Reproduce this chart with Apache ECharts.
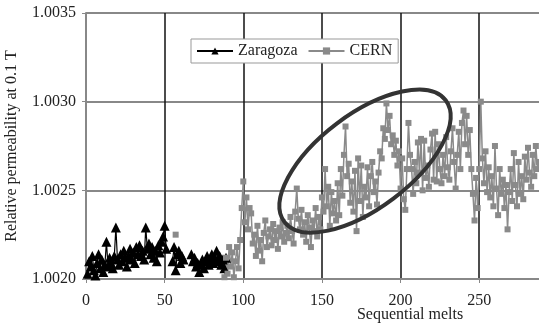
<!DOCTYPE html>
<html>
<head>
<meta charset="utf-8">
<script src="https://cdn.jsdelivr.net/npm/echarts@6/dist/echarts.min.js"></script>
<style>
  html, body { margin: 0; padding: 0; background: #fff; }
  #chart { width: 539px; height: 324px; }
</style>
</head>
<body>
<div id="chart"></div>
<script>
// Zaragoza: melts 1..89, null = no measurement
const zaragozaStart = 1
const zaragozaValues = [
  1.00203, 1.00210, 1.00207, 1.00213, 1.00205, 1.00202, 1.00209, 1.00214, 1.00206, 1.00211,
  1.00204, 1.00208, 1.00221, 1.00207, 1.00212, 1.00209, 1.00206, 1.00213, 1.00229, 1.00211,
  1.00208, 1.00214, 1.00210, 1.00216, 1.00212, 1.00207, 1.00213, 1.00217, 1.00211, 1.00215,
  1.00209, 1.00218, 1.00214, 1.00219, 1.00213, 1.00216, 1.00211, 1.00229, 1.00217, 1.00220,
  1.00214, 1.00218, 1.00212, 1.00216, 1.00210, 1.00219, 1.00215, 1.00221, 1.00224, 1.00230,
  1.00217, null, null, null,
  1.00210, 1.00218, 1.00205, 1.00214, 1.00216, 1.00209, 1.00213, 1.00211,
  null, null, null, null,
  1.00214, 1.00210, 1.00212, 1.00207, 1.00209, 1.00204, 1.00208, 1.00211, 1.00206, 1.00210,
  1.00213, 1.00208, 1.00211, 1.00214, 1.00209, 1.00212, 1.00216, 1.00210, 1.00213, 1.00208,
  1.00211, 1.00206, 1.00212
]

// CERN: one early melt, then melts 88..288
const cernEarly = [57, 1.00225]
const cernStart = 88
const cernValues = [
  1.00201, 1.00212, 1.00203, 1.00218, 1.00207, 1.00215, 1.00201, 1.00210, 1.00218, 1.00206,
  1.00222, 1.00240, 1.00255, 1.00232, 1.00246, 1.00228, 1.00240, 1.00237, 1.00220, 1.00225,
  1.00213, 1.00230, 1.00216, 1.00222, 1.00210, 1.00226, 1.00233, 1.00218, 1.00224, 1.00228,
  1.00219, 1.00231, 1.00222, 1.00227, 1.00217, 1.00229, 1.00224, 1.00232, 1.00221, 1.00226,
  1.00230, 1.00223, 1.00235, 1.00227, 1.00220, 1.00238, 1.00251, 1.00234, 1.00228, 1.00239,
  1.00225, 1.00232, 1.00221, 1.00236, 1.00229, 1.00218, 1.00233, 1.00227, 1.00240, 1.00224,
  1.00235, 1.00228, 1.00246, 1.00238, 1.00262, 1.00241, 1.00252, 1.00230, 1.00249, 1.00237,
  1.00244, 1.00233, 1.00254, 1.00236, 1.00262, 1.00247, 1.00270, 1.00286, 1.00258, 1.00265,
  1.00243, 1.00255, 1.00238, 1.00261, 1.00227, 1.00268, 1.00244, 1.00264, 1.00235, 1.00252,
  1.00246, 1.00263, 1.00241, 1.00258, 1.00266, 1.00249, 1.00255, 1.00242, 1.00260, 1.00272,
  1.00268, 1.00285, 1.00279, 1.00299, 1.00284, 1.00292, 1.00276, 1.00281, 1.00270, 1.00278,
  1.00264, 1.00272, 1.00251, 1.00268, 1.00245, 1.00239, 1.00262, 1.00288, 1.00270, 1.00262,
  1.00248, 1.00266, 1.00254, 1.00277, 1.00260, 1.00279, 1.00250, 1.00278, 1.00257, 1.00264,
  1.00252, 1.00273, 1.00282, 1.00256, 1.00283, 1.00255, 1.00276, 1.00262, 1.00254, 1.00270,
  1.00258, 1.00280, 1.00263, 1.00256, 1.00272, 1.00285, 1.00266, 1.00251, 1.00270, 1.00283,
  1.00262, 1.00288, 1.00295, 1.00276, 1.00292, 1.00270, 1.00284, 1.00262, 1.00248, 1.00233,
  1.00257, 1.00240, 1.00262, 1.00300, 1.00268, 1.00254, 1.00272, 1.00249, 1.00263, 1.00246,
  1.00258, 1.00241, 1.00275, 1.00251, 1.00236, 1.00262, 1.00248, 1.00256, 1.00240, 1.00253,
  1.00228, 1.00249, 1.00262, 1.00244, 1.00271, 1.00253, 1.00241, 1.00266, 1.00248, 1.00258,
  1.00245, 1.00269, 1.00256, 1.00274, 1.00260, 1.00252, 1.00270, 1.00258, 1.00275, 1.00262,
  1.00266
]

const xTicks = [0, 50, 100, 150, 200, 250]
const yTicks = [1.0020, 1.0025, 1.0030, 1.0035]

// highlighted region (centre in data units)
const ellipseCenter = [177.4, 1.002665]

const font = 'Liberation Serif'
const textColor = '#222'

function toPoints (start, values) {
  return values.map((v, i) => [start + i, v === null ? '-' : v])
}

const cernData = [cernEarly, [cernEarly[0] + 1, '-']].concat(toPoints(cernStart, cernValues))

const chart = echarts.init(document.getElementById('chart'))
chart.setOption({
  animation: false,
  grid: { left: 86, right: 0, top: 13, bottom: 45, containLabel: false, outerBoundsMode: 'none' },
  legend: {
    left: 191,
    top: 39,
    padding: [4, 6, 4, 5],
    backgroundColor: '#fff',
    borderColor: '#999',
    borderWidth: 1,
    borderRadius: 0,
    itemWidth: 36,
    itemHeight: 9,
    itemGap: 10,
    textStyle: { fontFamily: font, fontSize: 16, color: textColor },
    data: ['Zaragoza', 'CERN']
  },
  xAxis: {
    type: 'value',
    min: 0,
    max: 288,
    interval: 50,
    name: 'Sequential melts',
    nameLocation: 'middle',
    nameGap: 28,
    nameMoveOverlap: false,
    nameTextStyle: { fontFamily: font, fontSize: 16, color: textColor, padding: [0, 0, 0, 195] },
    axisLine: { lineStyle: { color: '#888', width: 2 } },
    axisTick: { show: true, length: 4, lineStyle: { color: '#888' } },
    axisLabel: {
      margin: 14,
      fontFamily: font,
      fontSize: 16,
      color: textColor,
      showMaxLabel: false,
      formatter: v => xTicks.indexOf(v) >= 0 ? String(v) : ''
    },
    splitLine: { show: true, showMinLine: false, showMaxLine: false, lineStyle: { color: '#111', width: 1.5 } }
  },
  yAxis: {
    type: 'value',
    min: yTicks[0],
    max: yTicks[yTicks.length - 1],
    interval: 0.0005,
    name: 'Relative permeability at 0.1 T',
    nameLocation: 'middle',
    nameGap: 66,
    nameMoveOverlap: false,
    nameTextStyle: { fontFamily: font, fontSize: 16, color: textColor },
    axisLine: { show: true, lineStyle: { color: '#888', width: 2 } },
    axisTick: { show: true, length: 4, lineStyle: { color: '#888' } },
    axisLabel: {
      margin: 10,
      fontFamily: font,
      fontSize: 16,
      color: textColor,
      formatter: v => v.toFixed(4)
    },
    splitLine: { show: true, lineStyle: { color: '#888', width: 2 } }
  },
  series: [
    {
      name: 'Zaragoza',
      type: 'line',
      data: toPoints(zaragozaStart, zaragozaValues),
      symbol: 'triangle',
      symbolSize: 10,
      showAllSymbol: true,
      connectNulls: false,
      itemStyle: { color: '#000' },
      lineStyle: { color: '#000', width: 1.2 }
    },
    {
      name: 'CERN',
      type: 'line',
      data: cernData,
      symbol: 'rect',
      symbolSize: 6,
      showAllSymbol: true,
      connectNulls: false,
      itemStyle: { color: '#8a8a8a' },
      lineStyle: { color: '#8a8a8a', width: 1.5 }
    }
  ]
})

// the ellipse drawn round the rising CERN values
const c = chart.convertToPixel({ gridIndex: 0 }, ellipseCenter)
chart.setOption({
  graphic: [{
    type: 'ellipse',
    x: c[0],
    y: c[1],
    rotation: 37 * Math.PI / 180,
    shape: { cx: 0, cy: 0, rx: 101, ry: 47 },
    style: { fill: 'none', stroke: '#333', lineWidth: 4 },
    z: 100
  }]
})
</script>
</body>
</html>
